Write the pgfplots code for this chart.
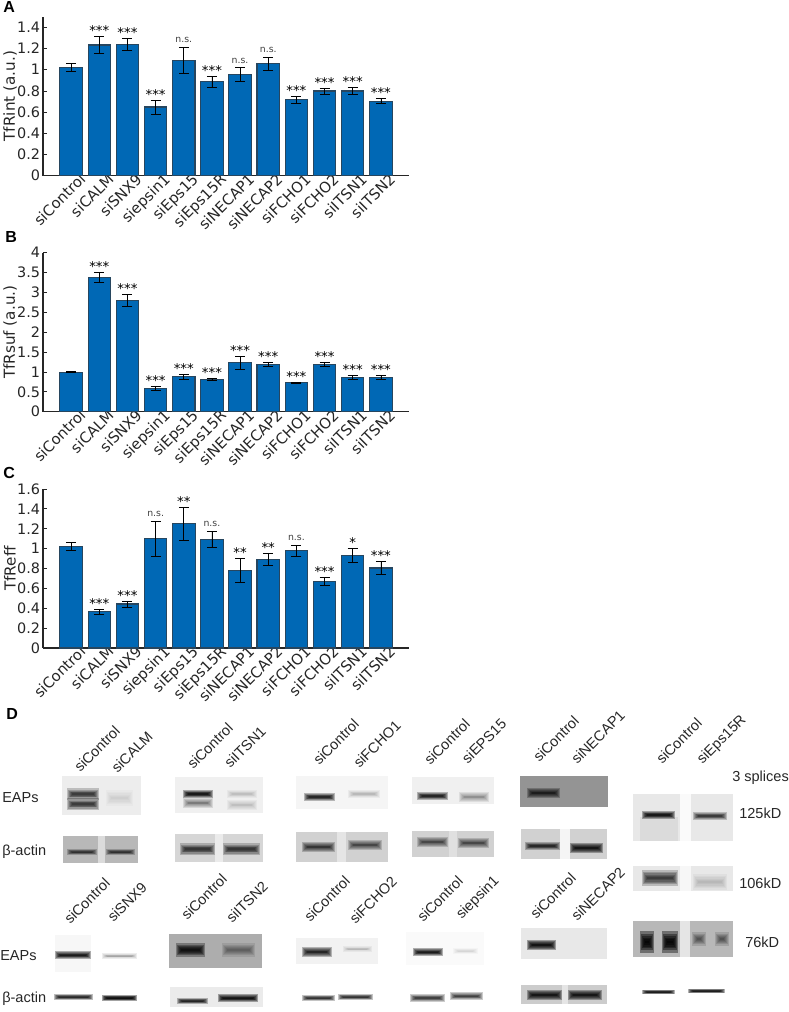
\documentclass[border=0pt]{standalone}
\usepackage{fontspec}
\setmainfont{DejaVu Sans}
\newfontfamily\arial{Liberation Sans}
\usepackage{pgfplots}
\usepackage{pgfplotstable}
\pgfplotsset{compat=1.18}

\definecolor{barblue}{HTML}{0068B5}
\definecolor{baredge}{HTML}{27465F}
\definecolor{axdark}{HTML}{262626}

\newcommand{\stOne}{\fontsize{10}{10}\selectfont *}
\newcommand{\stTwo}{\fontsize{10}{10}\selectfont **}
\newcommand{\stThree}{\fontsize{10}{10}\selectfont ***}
\newcommand{\ns}{\raisebox{2.8pt}{\fontsize{7}{7}\selectfont\color{black!75}n.s.}}

% x: bar position, val: height, err: half error bar, lab: significance
\pgfplotstableread{
x val err lab
1 1.022 0.035 {}
2 1.233 0.078 \stThree
3 1.239 0.057 \stThree
4 0.648 0.066 \stThree
5 1.088 0.123 \ns
6 0.887 0.055 \stThree
7 0.956 0.063 \ns
8 1.057 0.060 \ns
9 0.717 0.035 \stThree
10 0.799 0.027 \stThree
11 0.799 0.033 \stThree
12 0.704 0.025 \stThree
}\tabA
\pgfplotstableread{
x val err lab
1 0.998 0.010 {}
2 3.388 0.125 \stThree
3 2.800 0.150 \stThree
4 0.595 0.050 \stThree
5 0.880 0.060 \stThree
6 0.813 0.030 \stThree
7 1.233 0.160 \stThree
8 1.182 0.050 \stThree
9 0.730 0.010 \stThree
10 1.190 0.050 \stThree
11 0.864 0.050 \stThree
12 0.872 0.050 \stThree
}\tabB
\pgfplotstableread{
x val err lab
1 1.023 0.040 {}
2 0.366 0.027 \stThree
3 0.443 0.030 \stThree
4 1.100 0.175 \ns
5 1.252 0.165 \stTwo
6 1.094 0.080 \ns
7 0.782 0.120 \stTwo
8 0.893 0.063 \stTwo
9 0.980 0.054 \ns
10 0.671 0.040 \stThree
11 0.930 0.073 \stOne
12 0.805 0.064 \stThree
}\tabC

\pgfplotsset{
  panel/.style={
    anchor=south west, scale only axis, width=274.5pt, height=119.25pt,
    xmin=0, xmax=13, ymin=0,
    axis lines=left, axis line style={-, color=axdark, line width=0.8pt},
    tick align=inside, tick pos=left, major tick length=3pt,
    tick style={color=axdark, line width=0.6pt},
    xtick={1,...,12}, x tick style={draw=none},
    xticklabels={siControl,siCALM,siSNX9,siepsin1,siEps15,siEps15R,siNECAP1,siNECAP2,siFCHO1,siFCHO2,siITSN1,siITSN2},
    x tick label style={rotate=45, anchor=north east, font=\fontsize{11.1}{11}\selectfont, text=axdark, inner sep=1pt, xshift=6.8pt, yshift=-1pt},
    y tick label style={font=\fontsize{10.8}{11}\selectfont, text=axdark, inner sep=2pt,
      /pgf/number format/fixed, /pgf/number format/assume math mode=true},
    scaled y ticks=false, clip=false,
    ylabel style={at={(axis description cs:-0.09,0.5)}, anchor=center, rotate=0,
      font=\fontsize{11.4}{12}\selectfont, text=axdark},
  },
  bars/.style={ybar, bar width=0.8, bar shift=0pt, fill=barblue, draw=baredge, line width=0.8pt,
    error bars/.cd, y dir=both, y explicit,
    error bar style={black, line width=0.5pt},
    error mark options={rotate=90, mark size=3.75pt, line width=0.5pt, black}},
  stars/.style={draw=none, no markers, forget plot,
    nodes near coords, point meta=explicit symbolic,
    nodes near coords style={anchor=base, inner sep=0pt, yshift=0.6pt, text=black}},
  bl/.style={forget plot, no markers, draw=black},
}

% blot background, px coordinates: x0 x1 y0 y1 shade
\newcommand{\bg}[5]{\addplot[forget plot, draw=none, fill=black!#5] coordinates {(#1,#3)(#2,#3)(#2,#4)(#1,#4)} --cycle;}
% blurred band: x0 x1 y thickness opacity
\newcommand{\band}[5]{%
  \addplot[bl, line width=2.4*#4*.75pt, opacity=#5] coordinates {(#1,#3)(#2,#3)};
  \addplot[bl, line width=1.8*#4*.75pt, opacity=#5] coordinates {(#1+1,#3)(#2-1,#3)};
  \addplot[bl, line width=1.35*#4*.75pt, opacity=#5] coordinates {(#1+2,#3)(#2-2,#3)};
  \addplot[bl, line width=1*#4*.75pt, opacity=#5] coordinates {(#1+3,#3)(#2-3,#3)};
  \addplot[bl, line width=.65*#4*.75pt, opacity=#5] coordinates {(#1+4,#3)(#2-4,#3)};
  \addplot[bl, line width=.3*#4*.75pt, opacity=#5] coordinates {(#1+5,#3)(#2-5,#3)};
}
\newcommand{\lanelab}[3]{\node[rotate=45, font=\arial\fontsize{10.9}{11}\selectfont, text=black!85] at (axis cs:#1,#2) {#3};}
\newcommand{\tx}[3]{\node[anchor=west, inner sep=0pt, font=\arial\fontsize{10.9}{11}\selectfont, text=black!85] at (axis cs:#1,#2) {#3};}
\newcommand{\pletter}[3]{\node[anchor=west, inner sep=0pt, font=\arial\bfseries\fontsize{12}{12}\selectfont] at (axis cs:#1,#2) {#3};}

\begin{document}
\begin{tikzpicture}
\path[use as bounding box] (0,0) rectangle (591pt,759pt);

% panel D and the panel letters, in image pixels
\begin{axis}[at={(0,0)}, anchor=south west, scale only axis, width=591pt, height=759pt,
  xmin=0, xmax=788, ymin=0, ymax=1012, y dir=reverse, hide axis, clip=false]
% first row
\bg{62}{141}{776}{815}{7}
\band{67}{99}{794}{5}{.2} \band{67}{99}{804}{5}{.2} \band{106}{133}{798}{7}{.02}
\bg{63}{138}{836}{863}{28} \bg{98}{105}{836}{863}{14}
\band{67}{97}{852}{2.5}{.2} \band{106}{135}{852}{2.5}{.2}
\bg{175}{263}{777}{813}{6}
\band{183}{213}{794}{3.5}{.3} \band{183}{213}{803}{4}{.1} \band{227}{257}{794}{3.5}{.035} \band{227}{257}{805}{4}{.035}
\bg{175}{263}{834}{862}{16} \bg{215}{223}{834}{862}{8}
\band{180}{215}{849}{5}{.2} \band{223}{260}{849}{5}{.2}
\bg{296}{388}{776}{809}{4}
\band{304}{335}{797}{3.5}{.26} \band{348}{380}{794}{3.5}{.045}
\bg{296}{388}{832}{862}{18} \bg{337}{346}{832}{862}{10}
\band{302}{335}{847}{4}{.2} \band{348}{382}{845}{4}{.16}
\bg{412}{494}{777}{804}{6}
\band{417}{448}{796}{3.5}{.26} \band{459}{489}{797}{4}{.08}
\bg{412}{494}{831}{857}{18} \bg{449}{457}{831}{857}{12}
\band{417}{448}{842}{4}{.16} \band{458}{489}{843}{4}{.16}
\bg{520}{608}{776}{807}{42}
\band{527}{560}{793}{4}{.23}
\bg{521}{607}{829}{859}{18} \bg{560}{570}{829}{859}{4}
\band{525}{560}{846}{3.5}{.23} \band{570}{603}{848}{4}{.3}
\bg{633}{733}{794}{841}{9} \bg{680}{691}{794}{841}{2} \bg{640}{678}{817}{841}{14}
\band{642}{675}{815}{3.5}{.3} \band{693}{727}{816}{3.5}{.2}
\bg{633}{733}{866}{891}{9} \bg{680}{691}{866}{891}{3}
\band{642}{678}{878}{7}{.2} \band{693}{727}{882}{7}{.035}
\bg{633}{733}{921}{957}{28} \bg{680}{690}{921}{957}{10}
\band{640}{654}{942}{9}{.4} \band{662}{678}{942}{9}{.4} \band{692}{706}{939}{6}{.12} \band{715}{729}{939}{6}{.12}
\band{642}{675}{992}{2}{.3} \band{688}{725}{991}{2}{.3}
% second row
\bg{55}{91}{935}{972}{3}
\band{55}{91}{955}{3}{.3} \band{102}{137}{956}{2.2}{.07}
\band{54}{93}{997}{2.5}{.26} \band{102}{137}{998}{2.5}{.36}
\bg{169}{262}{934}{968}{32}
\band{176}{205}{950}{6}{.3} \band{222}{255}{950}{6}{.09}
\bg{170}{263}{987}{1007}{8}
\band{177}{208}{1001}{2.5}{.26} \band{218}{258}{998}{3}{.33}
\bg{296}{378}{938}{964}{5}
\band{302}{332}{952}{4}{.26} \band{343}{372}{949}{2.2}{.045}
\band{302}{335}{998}{2.5}{.23} \band{338}{373}{997}{2.5}{.23}
\bg{406}{484}{932}{965}{2}
\band{413}{443}{952}{3}{.3} \band{453}{478}{951}{2.5}{.025}
\band{410}{445}{998}{3.5}{.2} \band{450}{483}{996}{3}{.2}
\bg{521}{607}{928}{959}{9}
\band{527}{556}{945}{4}{.33}
\bg{521}{607}{985}{1004}{20} \bg{562}{568}{985}{1004}{10}
\band{527}{562}{995}{4}{.3} \band{568}{602}{995}{4}{.3}

% lane labels
\lanelab{97}{749}{siControl} \lanelab{132}{752}{siCALM}
\lanelab{210}{746}{siControl} \lanelab{245}{747}{siITSN1}
\lanelab{336}{742}{siControl} \lanelab{377}{744}{siFCHO1}
\lanelab{447}{742}{siControl} \lanelab{484}{741}{siEPS15}
\lanelab{556}{739}{siControl} \lanelab{598}{737}{siNECAP1}
\lanelab{679}{741}{siControl} \lanelab{722}{740}{siEps15R}
\lanelab{87}{901}{siControl} \lanelab{127}{902}{siSNX9}
\lanelab{204}{897}{siControl} \lanelab{247}{902}{siITSN2}
\lanelab{327}{899}{siControl} \lanelab{373}{900}{siFCHO2}
\lanelab{440}{899}{siControl} \lanelab{478}{898}{siepsin1}
\lanelab{553}{896}{siControl} \lanelab{598}{894}{siNECAP2}
\tx{2}{798}{EAPs} \tx{2}{852}{β-actin}
\tx{0}{956}{EAPs} \tx{2}{999}{β-actin}
\tx{732}{778}{3 splices} \tx{739}{813}{125kD} \tx{739}{883}{106kD} \tx{745}{942}{76kD}
\pletter{3}{7}{A} \pletter{5}{237}{B} \pletter{3}{473}{C} \pletter{6}{714}{D}
\end{axis}

% panel A
\begin{axis}[panel, at={(32.25pt,627.2pt)}, ymax=1.5, ytick={0,0.2,...,1.4},
  yticklabels={0,0.2,0.4,0.6,0.8,1,1.2,1.4}, ylabel={TfRint (a.u.)}]
\addplot[bars] table[x=x, y=val, y error=err] {\tabA};
\addplot[stars] table[x=x, y expr=\thisrow{val}+\thisrow{err}, meta=lab] {\tabA};
\end{axis}

% panel B
\begin{axis}[panel, at={(32.25pt,450.2pt)}, ymax=4, ytick={0,0.5,...,4},
  yticklabels={0,0.5,1,1.5,2,2.5,3,3.5,4}, ylabel={TfRsuf (a.u.)}]
\addplot[bars] table[x=x, y=val, y error=err] {\tabB};
\addplot[stars] table[x=x, y expr=\thisrow{val}+\thisrow{err}, meta=lab] {\tabB};
\end{axis}

% panel C
\begin{axis}[panel, at={(32.25pt,273pt)}, ymax=1.6, ytick={0,0.2,...,1.6},
  yticklabels={0,0.2,0.4,0.6,0.8,1,1.2,1.4,1.6}, ylabel={TfReff}]
\addplot[bars] table[x=x, y=val, y error=err] {\tabC};
\addplot[stars] table[x=x, y expr=\thisrow{val}+\thisrow{err}, meta=lab] {\tabC};
\end{axis}
\end{tikzpicture}
\end{document}
